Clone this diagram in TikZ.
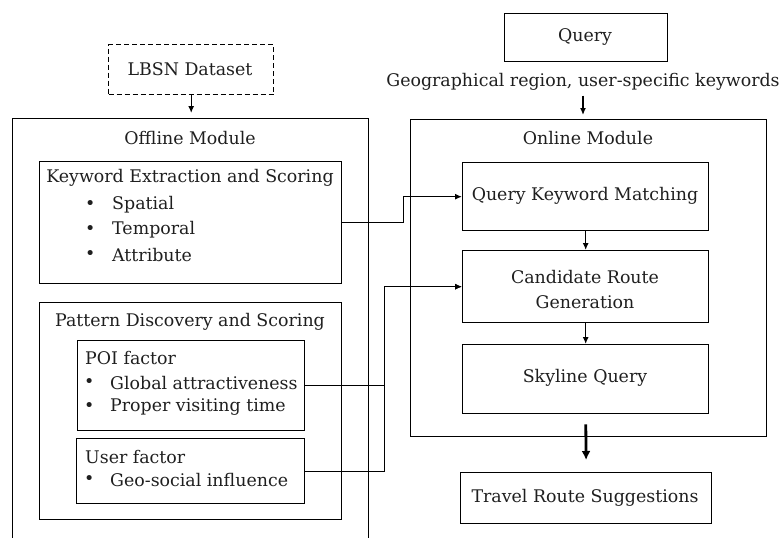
\documentclass[tikz,border=0pt]{standalone}
\usepackage{fontspec}
\setmainfont{DejaVu Serif}
\usetikzlibrary{arrows.meta}
\usetikzlibrary{positioning}
\tikzset{box/.style = {draw, line width = 1.4pt, inner sep = 0, anchor = north west}}
\tikzset{dbox/.style = {box, dash pattern = on 5pt off 3pt}}
\tikzset{txt/.style = {inner sep = 0, text = black!88, font = \fontsize{17.4}{20}\selectfont}}
\tikzset{ltxt/.style = {txt, anchor = west}}
\tikzset{arr/.style = {line width = 1.3pt, -{Latex[length = 7pt, width = 6pt]}}}
\tikzset{bigarr/.style = {line width = 2.8pt, -{Latex[length = 9pt, width = 9pt]}}}

\begin{document}
\begin{tikzpicture}[x = 1pt, y = -1pt]
      \clip (0, 0) rectangle (782, 538);
      % offline side
      \node [dbox, minimum width = 165pt, minimum height = 50pt] (lbsn) at (108, 44) {};
      \node [box, minimum width = 356pt, minimum height = 450pt] (offline) at (12, 118) {};
      \node [box, minimum width = 302pt, minimum height = 122pt] (kw) at (39, 161) {};
      \node [box, minimum width = 302pt, minimum height = 217pt] (pat) at (39, 302) {};
      \node [box, minimum width = 227pt, minimum height = 90pt] (poi) at (77, 340) {};
      \node [box, minimum width = 228pt, minimum height = 65pt] (user) at (76, 438) {};
      \node [txt] (lbsnt) at (190, 69) {LBSN Dataset};
      \node [txt] (offt) at (190, 138) {Offline Module};
      \node [txt] (kwt) at (190, 178) {Keyword Extraction and Scoring};
      \node [ltxt] (kwb1) at (85, 205) {•};
      \node [ltxt] (kwb2) at (85, 230) {•};
      \node [ltxt] (kwb3) at (85, 255) {•};
      \node [ltxt] (kw1) at (112, 205) {Spatial};
      \node [ltxt] (kw2) at (112, 230) {Temporal};
      \node [ltxt] (kw3) at (112, 255) {Attribute};
      \node [txt] (patt) at (190, 322) {Pattern Discovery and Scoring};
      \node [ltxt] (poit) at (85, 358) {POI factor};
      \node [ltxt] (poib1) at (84, 383) {•};
      \node [ltxt] (poib2) at (84, 407) {•};
      \node [ltxt] (poi1) at (110, 383) {Global attractiveness};
      \node [ltxt] (poi2) at (110, 407) {Proper visiting time};
      \node [ltxt] (usert) at (85, 457) {User factor};
      \node [ltxt] (userb1) at (84, 480) {•};
      \node [ltxt] (user1) at (110, 480) {Geo-social influence};
      % online side
      \node [box, minimum width = 163pt, minimum height = 48pt] (query) at (504, 13) {};
      \node [box, minimum width = 356pt, minimum height = 317pt] (online) at (410, 119) {};
      \node [box, minimum width = 246pt, minimum height = 68pt] (qkm) at (462, 162) {};
      \node [box, minimum width = 246pt, minimum height = 72pt] (cand) at (462, 250) {};
      \node [box, minimum width = 246pt, minimum height = 69pt] (sky) at (462, 344) {};
      \node [box, minimum width = 251pt, minimum height = 51pt] (travel) at (460, 472) {};
      \node [txt] (queryt) at (585, 37) {Query};
      \node [txt] (geo) at (583, 82) {Geographical region, user-specific keywords};
      \node [txt] (ont) at (588, 138) {Online Module};
      \node [txt] (qkmt) at (585, 196) {Query Keyword Matching};
      \node [txt] (cand1) at (585, 277) {Candidate Route};
      \node [txt] (cand2) at (585, 302) {Generation};
      \node [txt] (skyt) at (585, 378) {Skyline Query};
      \node [txt] (travelt) at (585, 498) {Travel Route Suggestions};
      % connectors
      \draw [arr, shorten >= 5pt] (lbsn.south) -- (lbsn.south |- offline.north);
      \draw [arr, shorten <= 5pt, shorten >= 4pt] (geo.south) -- (geo.south |- online.north);
      \draw [arr] (kw.east) -- ++(61, 0) |- (qkm.west);
      \draw [arr] (poi.east) -- ++(79, 0) |- (cand.west);
      \draw [arr] (user.east) -- ++(79, 0) |- (cand.west);
      \draw [arr] (qkm.south) -- (cand.north);
      \draw [arr] (cand.south) -- (sky.north);
      \draw [bigarr, shorten <= 10pt, shorten >= 12pt] (sky.south) -- (travel.north);
    \end{tikzpicture}
\end{document}
